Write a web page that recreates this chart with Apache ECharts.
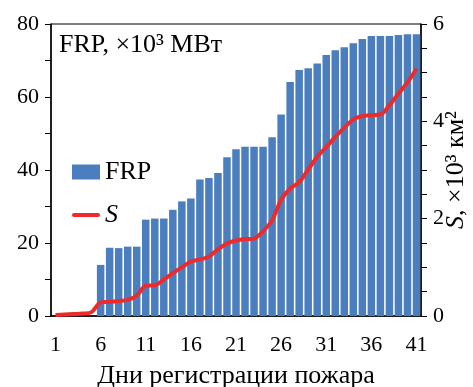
<!DOCTYPE html>
<html>
<head>
<meta charset="utf-8">
<script src="https://cdn.jsdelivr.net/npm/echarts@6/dist/echarts.min.js"></script>
<style>html,body{margin:0;padding:0;background:#fff}#c{width:473px;height:387px}</style>
</head>
<body>
<div id="c"></div>
<script>
const days = [];
for (let d = 1; d <= 41; d++) days.push(String(d));
const frp = [0, 0, 0, 0, 0, 14.0, 18.7, 18.6, 19.0, 19.0,
  26.4, 26.7, 26.7, 29.1, 31.4, 32.2, 37.4, 37.8, 39.2, 43.5,
  45.7, 46.4, 46.4, 46.4, 49.0, 55.2, 64.1, 67.4, 67.9, 69.2,
  71.5, 72.8, 73.6, 74.7, 75.9, 76.7, 76.7, 76.7, 77.0, 77.2, 77.2];
const area = [0.02, 0.03, 0.04, 0.05, 0.08, 0.28, 0.29, 0.31, 0.33, 0.42,
  0.62, 0.63, 0.75, 0.88, 1.00, 1.12, 1.16, 1.22, 1.37, 1.49,
  1.55, 1.58, 1.59, 1.74, 1.97, 2.39, 2.62, 2.75, 3.01, 3.27,
  3.47, 3.68, 3.87, 4.04, 4.11, 4.13, 4.14, 4.33, 4.57, 4.80, 5.08];
const leftTicks = [0, 20, 40, 60, 80];
const rightTicks = [0, 2, 4, 6];

const F = 'Liberation Serif';
const chart = echarts.init(document.getElementById('c'));
chart.setOption({
  animation: false,
  textStyle: { fontFamily: F, color: '#000' },
  title: {
    text: 'FRP, ×10³ МВт',
    left: 54, top: 27,
    textStyle: { fontFamily: F, fontSize: 26, fontWeight: 'normal', color: '#000' }
  },
  legend: {
    orient: 'vertical', left: 67, top: 154,
    itemWidth: 28, itemHeight: 15, itemGap: 17,
    textStyle: { fontFamily: F, fontSize: 26, color: '#000',
      rich: { i: { fontFamily: F, fontStyle: 'italic', fontSize: 26, color: '#000' } } },
    formatter: n => n === 'S' ? '{i|S}' : n,
    data: [{ name: 'FRP', icon: 'rect' },
           { name: 'S', icon: 'path://M2,0 H26 A2,2 0 0 1 26,4 H2 A2,2 0 0 1 2,0 Z' }]
  },
  grid: { left: 51, right: 52, top: 24, bottom: 71, outerBoundsMode: 'none',
    show: true, borderColor: '#000', borderWidth: 1 },
  xAxis: {
    type: 'category', data: days,
    name: 'Дни регистрации пожара', nameLocation: 'middle', nameGap: 47,
    nameMoveOverlap: false,
    nameTextStyle: { fontFamily: F, fontSize: 26, color: '#000' },
    axisLine: { lineStyle: { color: '#000', width: 1.5 } },
    axisTick: { interval: 0, length: 7, lineStyle: { color: '#000' } },
    axisLabel: { interval: 4, margin: 18, fontFamily: F, fontSize: 22, color: '#000' }
  },
  yAxis: [{
    type: 'value', min: 0, max: 80, interval: 10,
    axisLine: { show: true, lineStyle: { color: '#000', width: 1.5 } },
    axisTick: { show: true, length: 6, lineStyle: { color: '#000' } },
    splitLine: { show: false },
    axisLabel: { margin: 12, fontFamily: F, fontSize: 22, color: '#000',
      formatter: v => leftTicks.includes(v) ? String(v) : '' }
  }, {
    type: 'value', min: 0, max: 6, interval: 0.5, position: 'right',
    name: '{i|S}, ×10³ км²', nameLocation: 'middle', nameGap: 22, nameRotate: 90,
    nameMoveOverlap: false,
    nameTextStyle: { fontFamily: F, fontSize: 26, color: '#000',
      rich: { i: { fontFamily: F, fontStyle: 'italic', fontSize: 26, color: '#000' } } },
    axisLine: { show: true, lineStyle: { color: '#000', width: 1.5 } },
    axisTick: { show: true, length: 6, lineStyle: { color: '#000' } },
    splitLine: { show: false },
    axisLabel: { margin: 12, fontFamily: F, fontSize: 22, color: '#000',
      formatter: v => rightTicks.includes(v) ? String(v) : '' }
  }],
  series: [{
    name: 'FRP', type: 'bar', data: frp, barCategoryGap: '17%',
    itemStyle: { color: '#4A7EBF' }
  }, {
    name: 'S', type: 'line', yAxisIndex: 1, data: area, smooth: 0.3,
    symbol: 'none', lineStyle: { color: '#EE2A2A', width: 4 },
    itemStyle: { color: '#EE2A2A' }
  }]
});
</script>
</body>
</html>
